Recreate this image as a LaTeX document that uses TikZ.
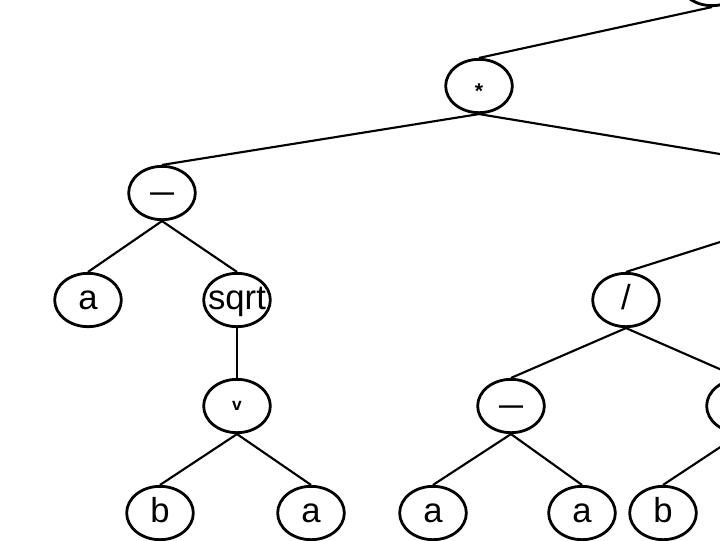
\documentclass[tikz,border=0pt]{standalone}
\usepackage{fontspec}
\setmainfont{Liberation Sans}
\usetikzlibrary{shapes.geometric}

\begin{document}
\begin{tikzpicture}[x=0.75pt,y=-0.75pt,
    op/.style={ellipse,draw,line width=2.1pt,minimum width=50pt,minimum height=40pt,inner sep=0pt,
      text height=13.5pt,text depth=0pt,font=\fontsize{26}{28}\selectfont},
    edge/.style={line width=1.6pt}]
  \useasboundingbox (0,0) rectangle (720,540);
  \clip (0,0) rectangle (720,540);
  % upper levels
  \node[op](root)at(712,-21){};
  \node[op,text height=18pt](mul)at(479,86){\fontsize{16}{16}\bfseries *};
  \node[op,text height=11.5pt](minA)at(162,193){\fontsize{18}{20}\bfseries —};
  \node[op](rhs)at(786,193){};
  % third level
  \node[op](a1)at(88,300){a};
  \node[op,inner xsep=-4pt](sqrt)at(237,300){sqrt};
  \node[op](div)at(626,300){/};
  % fourth level
  \node[op,text height=7pt](vee)at(237,406){\fontsize{13}{13}\bfseries v};
  \node[op,text height=11.5pt](minB)at(511,406){\fontsize{18}{20}\bfseries —};
  \node[op](rdiv)at(740,406){};
  % leaves
  \node[op](b1)at(160,513){b};
  \node[op](a2)at(311,513){a};
  \node[op](a3)at(433,513){a};
  \node[op](a4)at(582,513){a};
  \node[op](b2)at(663,513){b};
  % edges
  \draw[edge](mul.north)--(root.south);
  \draw[edge](mul.south)--(minA.north);
  \draw[edge](mul.south)--(rhs.north);
  \draw[edge](minA.south)--(a1.north);
  \draw[edge](minA.south)--(sqrt.north);
  \draw[edge](rhs.south)--(div.north);
  \draw[edge](sqrt.south)--(vee.north);
  \draw[edge](div.south)--(minB.north);
  \draw[edge](div.south)--(rdiv.north);
  \draw[edge](vee.south)--(b1.north);
  \draw[edge](vee.south)--(a2.north);
  \draw[edge](minB.south)--(a3.north);
  \draw[edge](minB.south)--(a4.north);
  \draw[edge](rdiv.south)--(b2.north);
\end{tikzpicture}
\end{document}
